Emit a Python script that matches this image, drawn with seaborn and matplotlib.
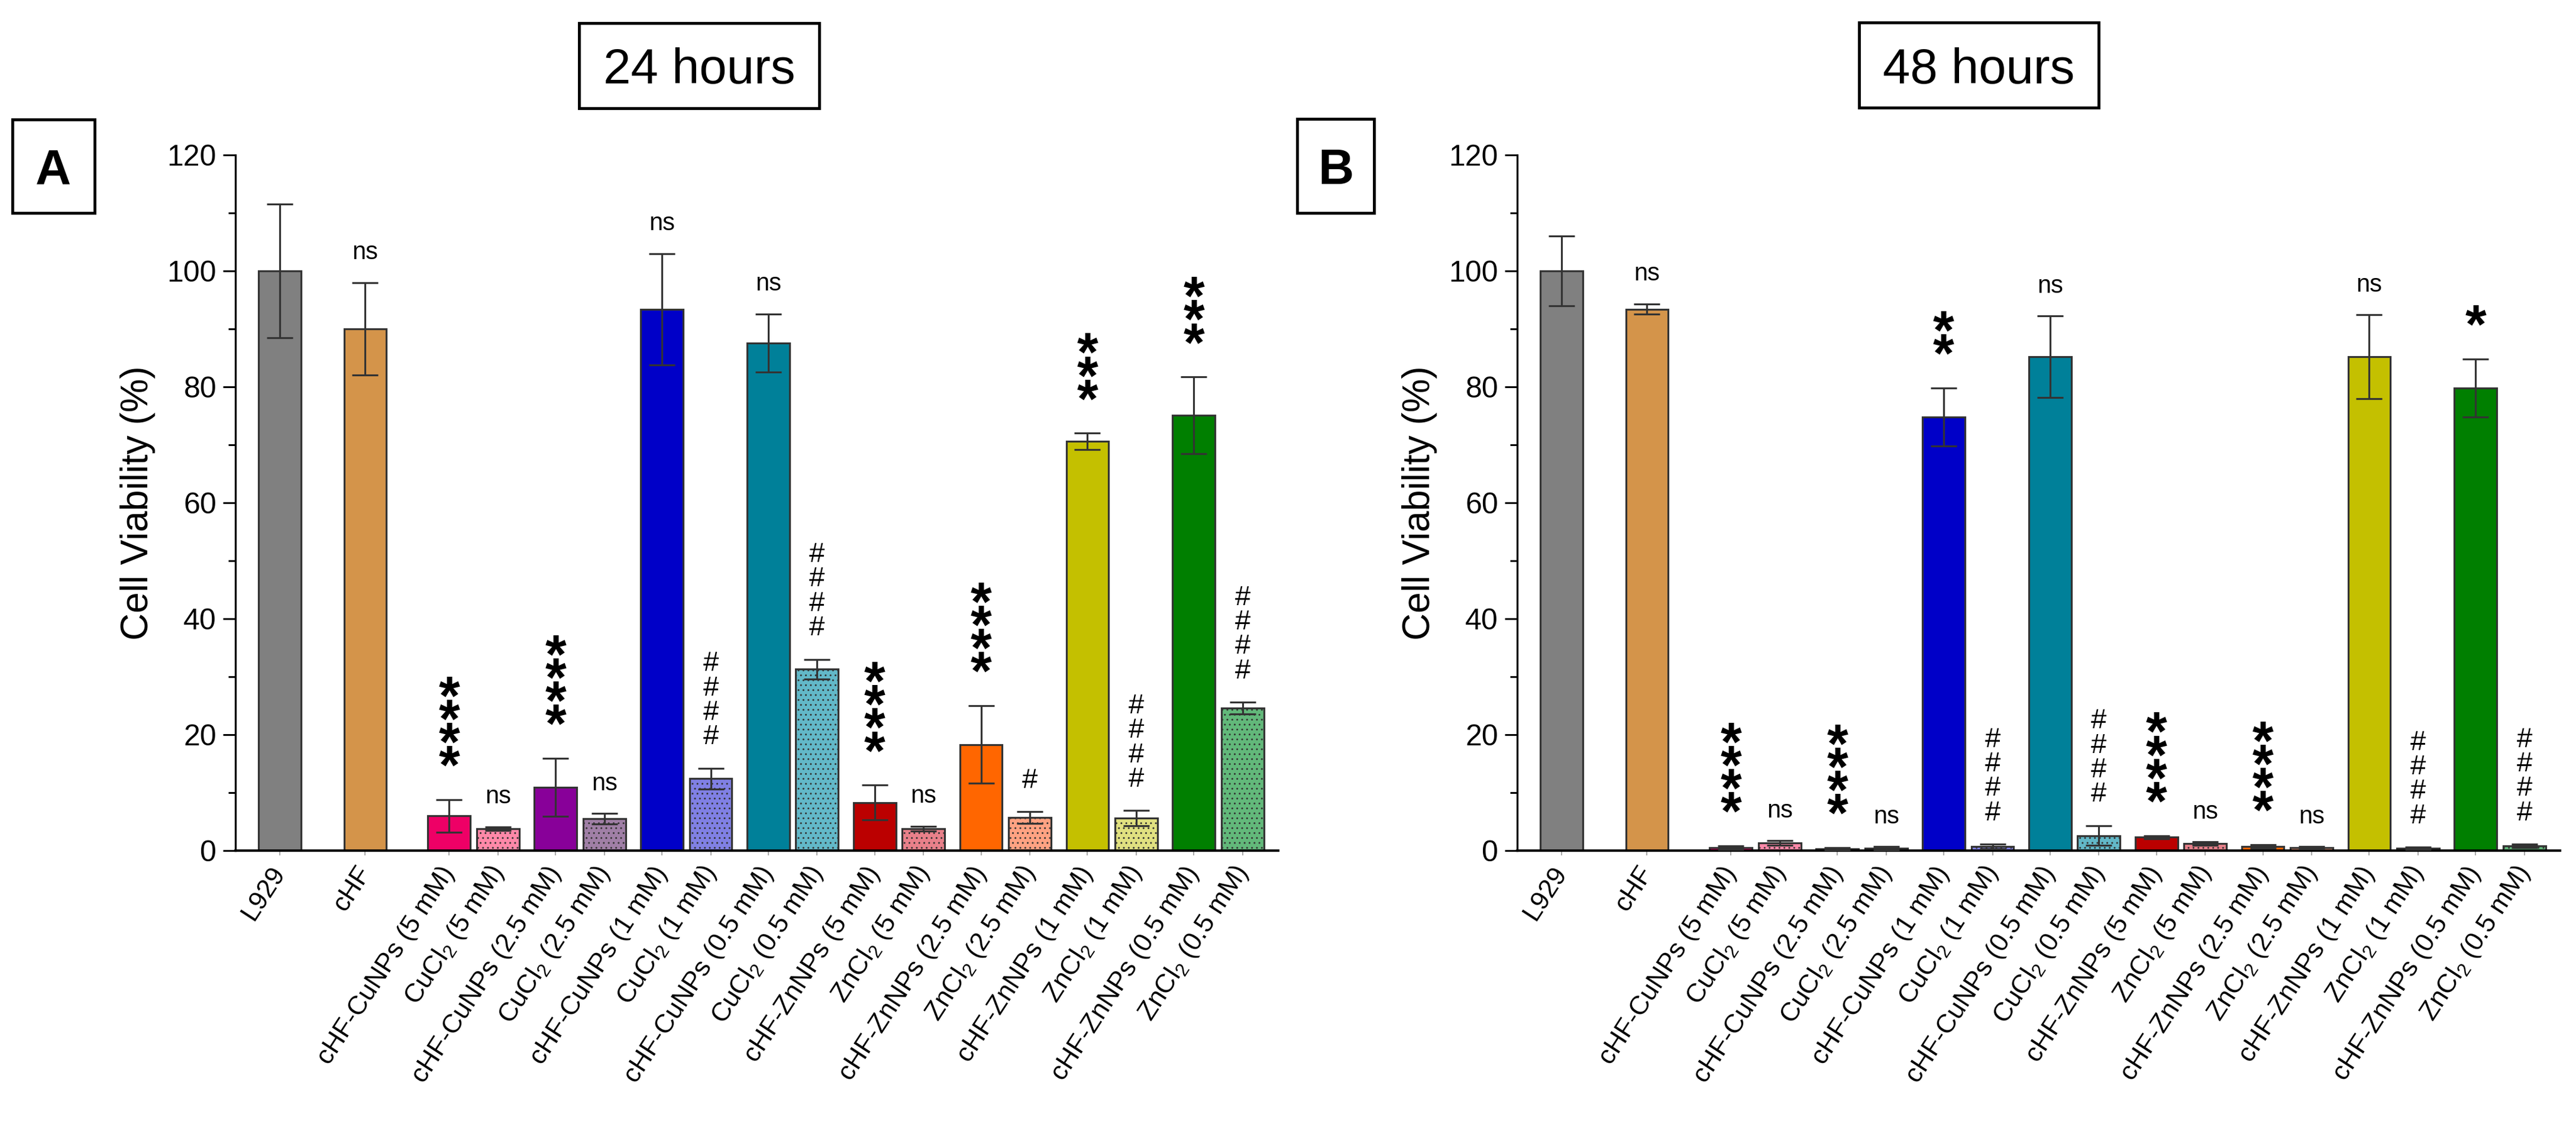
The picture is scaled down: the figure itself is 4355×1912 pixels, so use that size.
import numpy as np
import pandas as pd
import matplotlib
matplotlib.use("Agg")
import matplotlib.pyplot as plt
from matplotlib.patches import Rectangle
from matplotlib.ticker import MultipleLocator
import seaborn as sns

# Configure visuals
sns.set_theme(style="ticks")
plt.rcParams['font.family'] = ['Liberation Sans', 'DejaVu Sans']
plt.rcParams['mathtext.default'] = 'regular'

# -------------------------
# Data
# -------------------------
groups = ["L929", "cHF",
          "cHF-CuNPs (5 mM)", "CuCl$_2$ (5 mM)",
          "cHF-CuNPs (2.5 mM)", "CuCl$_2$ (2.5 mM)",
          "cHF-CuNPs (1 mM)", "CuCl$_2$ (1 mM)",
          "cHF-CuNPs (0.5 mM)", "CuCl$_2$ (0.5 mM)",
          "cHF-ZnNPs (5 mM)", "ZnCl$_2$ (5 mM)",
          "cHF-ZnNPs (2.5 mM)", "ZnCl$_2$ (2.5 mM)",
          "cHF-ZnNPs (1 mM)", "ZnCl$_2$ (1 mM)",
          "cHF-ZnNPs (0.5 mM)", "ZnCl$_2$ (0.5 mM)"]

bar_colors = ["#808080", "#D4944A",
              "#EE0066", "#FF88A8", "#880099", "#A07FA6",
              "#0000C8", "#8080E4", "#008099", "#62B8C8",
              "#BB0000", "#E8808A", "#FF6600", "#FFA282",
              "#C4C000", "#E0E080", "#007F00", "#62B87A"]
dotted = [False, False] + [False, True] * 8

viab_24 = [100.0, 90.0, 6.0, 3.8, 10.9, 5.5, 93.4, 12.4, 87.6, 31.3,
           8.3, 3.8, 18.3, 5.7, 70.6, 5.6, 75.1, 24.6]
sd_24 = [11.5, 8.0, 2.8, 0.3, 5.0, 0.9, 9.6, 1.8, 5.0, 1.7,
         3.0, 0.4, 6.7, 1.0, 1.4, 1.3, 6.6, 1.0]
marks_24 = ["", "ns", "****", "ns", "****", "ns", "ns", "####", "ns", "####",
            "****", "ns", "****", "#", "***", "####", "***", "####"]

viab_48 = [100.0, 93.4, 0.5, 1.3, 0.3, 0.4, 74.8, 0.7, 85.2, 2.6,
           2.3, 1.2, 0.7, 0.5, 85.2, 0.4, 79.8, 0.8]
sd_48 = [6.0, 0.9, 0.3, 0.4, 0.2, 0.3, 5.0, 0.4, 7.0, 1.7,
         0.3, 0.3, 0.3, 0.2, 7.2, 0.2, 5.0, 0.3]
marks_48 = ["", "ns", "****", "ns", "****", "ns", "**", "####", "ns", "####",
            "****", "ns", "****", "ns", "ns", "####", "*", "####"]

# -------------------------
# Layout
# -------------------------
W, H = 4355, 1912
fig = plt.figure(figsize=(W / 100, H / 100), dpi=100)

# bar centres: two controls, then eight NP / chloride pairs
pos = [0.0, 1.75] + [3.47 + 2.18 * k + j for k in range(8) for j in (0, 1)]
DARK = "#333333"


def boxed_label(x0, y0, x1, y1, text, **kw):
    fig.add_artist(Rectangle((x0 / W, 1 - y1 / H), (x1 - x0) / W, (y1 - y0) / H,
                             transform=fig.transFigure, fill=False,
                             lw=3.5, ec="black"))
    fig.text((x0 + x1) / 2 / W, 1 - (y0 + y1) / 2 / H, text,
             ha="center", va="center_baseline", color="black", **kw)


def draw_panel(ax, vals, sds, marks):
    df = pd.DataFrame({"pos": pos, "viability": vals})
    sns.barplot(data=df, x="pos", y="viability", native_scale=True,
                width=0.87, errorbar=None, color="grey",
                edgecolor=DARK, linewidth=2.3, ax=ax)
    bars = sorted(ax.patches, key=lambda p: p.get_x())
    for bar, c, d in zip(bars, bar_colors, dotted):
        bar.set_facecolor(c)
        if d:
            bar.set_hatch("..")
    ax.errorbar(pos, vals, yerr=sds, fmt="none", ecolor=DARK,
                elinewidth=2.3, capsize=16, capthick=2.3, zorder=3)

    # significance marks, stacked vertically like in the original
    for x, v, s, m in zip(pos, vals, sds, marks):
        if not m:
            continue
        top = v + s
        if m.startswith("*"):
            ax.annotate("\n".join(m), (x, top), xytext=(0, 6),
                        textcoords="offset points", ha="center", va="bottom",
                        fontsize=66, fontweight="bold", linespacing=0.3,
                        color="black", annotation_clip=False)
        elif m.startswith("#"):
            ax.annotate("\n".join(m), (x, top), xytext=(0, 22),
                        textcoords="offset points", ha="center", va="bottom",
                        fontsize=34, linespacing=0.92, color="black",
                        annotation_clip=False)
        else:
            ax.annotate(m, (x, top), xytext=(0, 22),
                        textcoords="offset points", ha="center", va="bottom",
                        fontsize=30, color="black", annotation_clip=False)

    ax.set_xlim(-0.91, 20.46)
    ax.set_ylim(0, 120)
    ax.yaxis.set_major_locator(MultipleLocator(20))
    ax.yaxis.set_minor_locator(MultipleLocator(10))
    ax.set_xticks(pos)
    ax.set_xticklabels(groups, rotation=57, ha="right", va="center",
                       rotation_mode="anchor")
    ax.tick_params(axis="y", which="major", length=15, width=2.2,
                   labelsize=36, pad=8, color="black", labelcolor="black")
    ax.tick_params(axis="y", which="minor", length=8.5, width=2.2, color="black")
    ax.tick_params(axis="x", length=6, width=1.5, color="#aaaaaa",
                   labelsize=32, pad=16, labelcolor="black")
    ax.set_xlabel("")
    ax.set_ylabel("Cell Viability (%)", fontsize=46, labelpad=14, color="black")
    sns.despine(ax=ax)
    ax.spines["left"].set_linewidth(2.4)
    ax.spines["bottom"].set_linewidth(3.0)
    ax.spines["left"].set_color("black")
    ax.spines["bottom"].set_color("black")


axA = fig.add_axes([398 / W, 1 - 1438 / H, 1763 / W, (1438 - 262) / H])
axB = fig.add_axes([2565 / W, 1 - 1438 / H, 1763 / W, (1438 - 262) / H])
draw_panel(axA, viab_24, sd_24, marks_24)
draw_panel(axB, viab_48, sd_48, marks_48)

boxed_label(979, 39, 1385, 183, "24 hours", fontsize=60)
boxed_label(3143, 38, 3548, 182, "48 hours", fontsize=60)
boxed_label(21, 202, 160, 360, "A", fontsize=60, fontweight="bold")
boxed_label(2193, 201, 2323, 360, "B", fontsize=60, fontweight="bold")

fig.savefig("out.png", dpi=100)
